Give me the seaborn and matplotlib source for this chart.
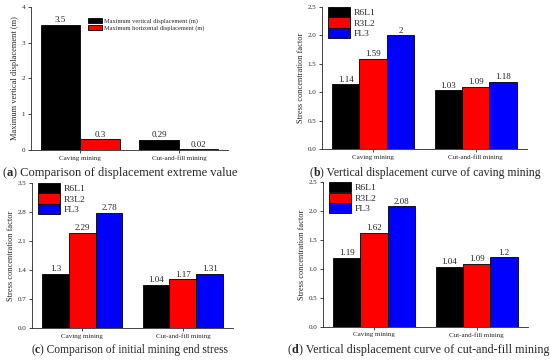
import pandas as pd
import matplotlib
matplotlib.use("Agg")
import matplotlib.pyplot as plt
import matplotlib.ticker as mticker
import seaborn as sns

groups = ["Caving mining", "Cut-and-fill mining"]

disp_names = ["Maximum vertical displacement (m)", "Maximum horizontal displacement (m)"]
disp_vertical = [3.5, 0.29]
disp_horizontal = [0.3, 0.02]

lines = ["R6L1", "R3L2", "FL3"]
b_r6l1 = [1.14, 1.03]
b_r3l2 = [1.59, 1.09]
b_fl3 = [2, 1.18]

c_r6l1 = [1.3, 1.04]
c_r3l2 = [2.29, 1.17]
c_fl3 = [2.78, 1.31]

d_r6l1 = [1.19, 1.04]
d_r3l2 = [1.62, 1.09]
d_fl3 = [2.08, 1.2]

captions = [
    ("a", " Comparison of displacement extreme value"),
    ("b", " Vertical displacement curve of caving mining"),
    ("c", " Comparison of initial mining end stress"),
    ("d", " Vertical displacement curve of cut-and-fill mining"),
]


def long_df(names, series):
    rows = []
    for name, vals in zip(names, series):
        for g, v in zip(groups, vals):
            rows.append({"group": g, "series": name, "value": v})
    return pd.DataFrame(rows)


def text_width(fig, s, **kw):
    t = fig.text(0, 0, s, **kw)
    fig.canvas.draw()
    w = t.get_window_extent().width / fig.bbox.width
    t.remove()
    return w


def caption(fig, cx, cy, tag, text, size):
    # "(x)" with bold letter, then the normal caption text, centred on cx
    total = (text_width(fig, "(", fontsize=size)
             + text_width(fig, tag, fontsize=size, fontweight="bold")
             + text_width(fig, ")" + text, fontsize=size))
    x = cx - total / 2
    for s, bold in [("(", False), (tag, True), (")" + text, False)]:
        fig.text(x, cy, s, fontsize=size, va="center",
                 fontweight="bold" if bold else "normal")
        x += text_width(fig, s, fontsize=size, fontweight="bold" if bold else "normal")


sns.set_theme(style="ticks")
plt.rcParams['font.family'] = ['Liberation Serif', 'DejaVu Serif']

fig = plt.figure(figsize=(5.5, 3.6), dpi=100)
boxes = [
    [0.056, 0.583, 0.359, 0.398],
    [0.585, 0.586, 0.373, 0.395],
    [0.058, 0.089, 0.366, 0.403],
    [0.587, 0.092, 0.373, 0.402],
]
panels = [
    (long_df(disp_names, [disp_vertical, disp_horizontal]), ["black", "red"],
     "Maximum vertical displacement (m)", (0, 4), [0, 1, 2, 3, 4], "%d"),
    (long_df(lines, [b_r6l1, b_r3l2, b_fl3]), ["black", "red", "blue"],
     "Stress concentration factor", (0, 2.5), [0, 0.5, 1.0, 1.5, 2.0, 2.5], "%.1f"),
    (long_df(lines, [c_r6l1, c_r3l2, c_fl3]), ["black", "red", "blue"],
     "Stress concentration factor", (0, 3.5), [0, 0.7, 1.4, 2.1, 2.8, 3.5], "%.1f"),
    (long_df(lines, [d_r6l1, d_r3l2, d_fl3]), ["black", "red", "blue"],
     "Stress concentration factor", (0, 2.5), [0, 0.5, 1.0, 1.5, 2.0, 2.5], "%.1f"),
]

for i, (df, pal, ylab, ylim, yt, yfmt) in enumerate(panels):
    ax = fig.add_axes(boxes[i])
    sns.barplot(data=df, x="group", y="value", hue="series", palette=pal,
                edgecolor="black", linewidth=0.6, saturation=1, ax=ax)
    for cont in ax.containers:
        ax.bar_label(cont, fmt="%g", fontsize=6.5, padding=0.5)
    ax.set_xlim(-0.5, 1.5)
    ax.set_ylim(*ylim)
    ax.set_yticks(yt)
    ax.yaxis.set_major_formatter(mticker.FormatStrFormatter(yfmt))
    ax.set_xlabel("")
    ax.set_ylabel(ylab, fontsize=6, labelpad=2)
    ax.tick_params(labelsize=5, length=2.5, width=0.6, pad=1.5)
    for s in ["left", "bottom"]:
        ax.spines[s].set_linewidth(0.6)
    sns.despine(ax=ax)
    if i == 0:
        ax.legend(loc="upper left", bbox_to_anchor=(0.29, 0.925), frameon=False,
                  fontsize=4.6, handlelength=2.2, handleheight=1.0,
                  labelspacing=0.08, handletextpad=0.3, borderaxespad=0,
                  borderpad=0)
    else:
        ax.legend(loc="upper left", bbox_to_anchor=(0.03, 1.0), frameon=False,
                  fontsize=6.8, handlelength=2.3, handleheight=1.3,
                  labelspacing=0.02, handletextpad=0.4, borderaxespad=0,
                  borderpad=0)

cap_pos = [(0.218, 0.519), (0.773, 0.519), (0.236, 0.028), (0.761, 0.028)]
cap_size = [9.0, 8.5, 8.3, 8.7]
for (tag, text), (cx, cy), size in zip(captions, cap_pos, cap_size):
    caption(fig, cx, cy, tag, text, size)

fig.savefig("out.png", dpi=100)
